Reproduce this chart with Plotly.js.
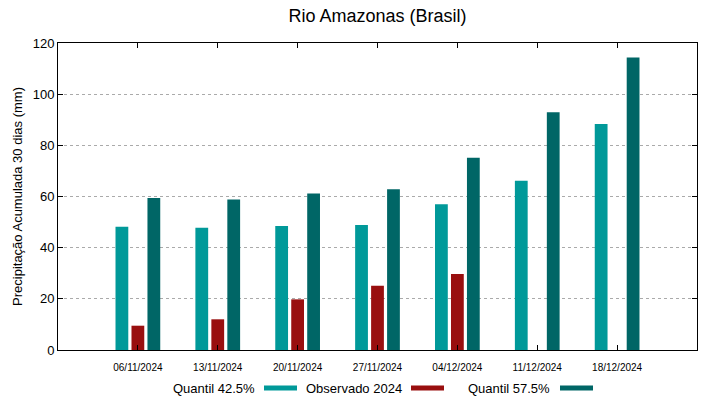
<!DOCTYPE html>
<html>
<head>
<meta charset="utf-8">
<script src="https://cdn.plot.ly/plotly-3.0.1.min.js"></script>
<style>html,body{margin:0;padding:0;background:#fff;}#chart{width:719px;height:399px;}</style>
</head>
<body>
<div id="chart"></div>
<script>
const categories = ["06/11/2024","13/11/2024","20/11/2024","27/11/2024","04/12/2024","11/12/2024","18/12/2024"];
const quantil425 = [48.2, 47.8, 48.5, 48.9, 57.0, 66.2, 88.3];
const observado2024 = [9.5, 12.0, 19.8, 25.1, 29.7, null, null];
const quantil575 = [59.4, 58.8, 61.2, 62.8, 75.1, 92.9, 114.3];
const seriesNames = ["Quantil 42.5%", "Observado 2024", "Quantil 57.5%"];
const yTicks = [0, 20, 40, 60, 80, 100, 120];

const colors = ["#009999", "#990f0f", "#006666"];
const W = 719, H = 399, L = 58, R = 22, T = 43, B = 49;
const pw = W - L - R, ph = H - T - B;
const px2x = x => (x - L) / pw;
const px2y = y => (H - B - y) / ph;

const data = [quantil425, observado2024, quantil575].map((vals, i) => ({
  type: 'bar', x: categories, y: vals, name: seriesNames[i],
  marker: {color: colors[i], line: {width: 0}}, showlegend: false, hoverinfo: 'skip'
}));

// custom legend: text then swatch (gnuplot style)
const legendItems = [
  {textRight: 257, swL: 264, swR: 297},
  {textRight: 404, swL: 411, swR: 444},
  {textRight: 552, swL: 560, swR: 593}
];
const legY = 388;
const annotations = legendItems.map((it, i) => ({
  xref: 'paper', yref: 'paper', x: px2x(it.textRight), y: px2y(legY),
  xanchor: 'right', yanchor: 'middle', text: seriesNames[i], showarrow: false,
  font: {family: 'Liberation Sans, Arial, sans-serif', size: 13, color: '#000'}
}));
const shapes = legendItems.map((it, i) => ({
  type: 'rect', xref: 'paper', yref: 'paper',
  x0: px2x(it.swL), x1: px2x(it.swR), y0: px2y(legY + 2.5), y1: px2y(legY - 2.5),
  fillcolor: colors[i], line: {width: 0}
}));

const layout = {
  width: W, height: H,
  margin: {l: L, r: R, t: T, b: B, pad: 0},
  paper_bgcolor: '#fff', plot_bgcolor: '#fff',
  font: {family: 'Liberation Sans, Arial, sans-serif', color: '#000'},
  title: {text: 'Rio Amazonas (Brasil)', x: 0.5, xref: 'paper', y: 1 - 16 / H, yref: 'container',
          xanchor: 'center', yanchor: 'middle', font: {size: 18, color: '#000'}},
  barmode: 'group', bargap: 0.4, bargroupgap: 0.2,
  xaxis: {
    type: 'category', range: [-1, 7], showgrid: false, zeroline: false,
    showline: true, linecolor: '#000', linewidth: 1, mirror: 'ticks',
    ticks: 'inside', ticklen: 5, tickcolor: '#000',
    tickfont: {size: 10}, ticklabelstandoff: 8, fixedrange: true
  },
  yaxis: {
    range: [0, 120], tickvals: yTicks, ticktext: yTicks.map(String),
    showgrid: true, gridcolor: '#aaa', griddash: 'dot', gridwidth: 1, zeroline: false,
    showline: true, linecolor: '#000', linewidth: 1, mirror: 'ticks',
    ticks: 'inside', ticklen: 5, tickcolor: '#000',
    tickfont: {size: 13},
    title: {text: 'Precipitação Acumulada 30 dias (mm)', font: {size: 13}, standoff: 7},
    fixedrange: true
  },
  annotations: annotations,
  shapes: shapes
};

Plotly.newPlot('chart', data, layout, {displayModeBar: false, staticPlot: true});
</script>
</body>
</html>
